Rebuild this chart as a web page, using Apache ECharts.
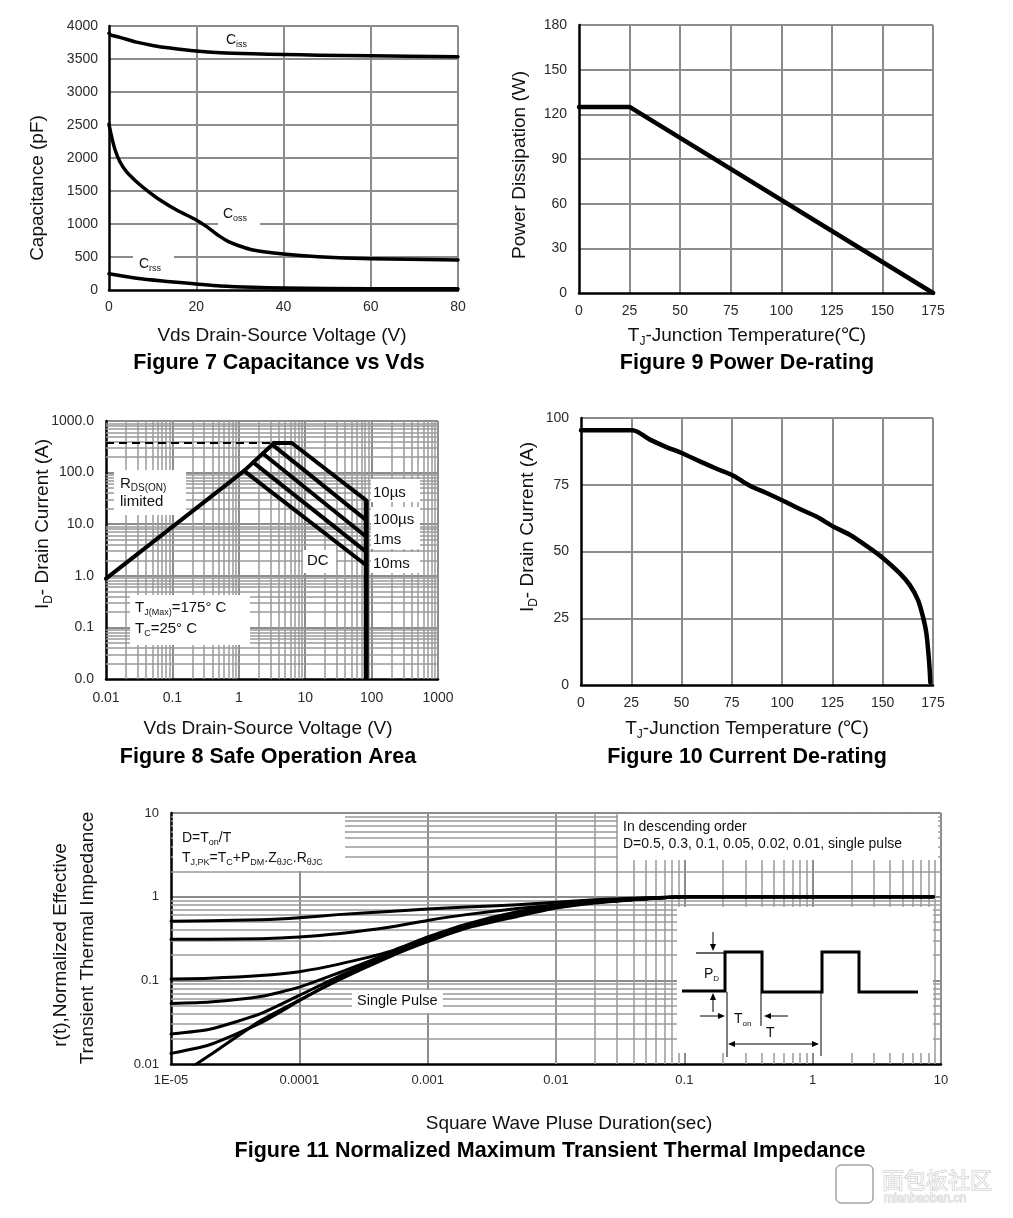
<!DOCTYPE html>
<html><head><meta charset="utf-8">
<script src="https://cdn.jsdelivr.net/npm/echarts@6/dist/echarts.min.js"></script>
<style>html,body{margin:0;padding:0;background:#fff}#c{width:1013px;height:1218px}</style>
</head><body><div id="c"></div>
<script>
// ---------------- DATA ----------------
// Figure 7 : capacitance vs Vds  [Vds (V), C (pF)]
const cissPF = [[0,3890],[0.5,3862],[2.5,3828],[6.3,3755],[10,3705],[14,3665],[20,3620],[25.5,3595],[33,3578],[40,3568],[48,3558],[60,3548],[80,3535]];
const cossPF = [[0,2510],[0.6,2323],[1.4,2121],[2.5,1944],[4,1793],[6.3,1641],[8.6,1515],[11.7,1364],[15.5,1212],[20,1061],[22.4,960],[25.5,808],[27.4,732],[29.3,682],[33,606],[40,545],[48,505],[60,475],[80,455]];
const crssPF = [[0,245],[6.3,177],[14,126],[20,91],[25.5,61],[33,40],[40,30],[60,20],[80,18]];

// Figure 9 : power de-rating [Tj (C), P (W)]
const powerDerating = [[0,125],[25,125],[175,0]];

// Figure 10 : current de-rating [Tj (C), Id (A)]
const currentDerating = [[0,95.4],[25.5,95.4],[34.3,91.9],[42.5,89.1],[50,86.9],[59.1,83.75],[67.4,81],[75.7,78.4],[84,74.6],[92.2,71.9],[100.2,69.1],[108.8,65.9],[117,63.1],[125.3,59.4],[133.6,56.25],[141.9,52.1],[150.2,47.5],[158.4,41.9],[163.4,37.5],[167.5,31.9],[170,25.6],[171.7,19.4],[173,9.4],[173.7,0.9]];

// Figure 8 : safe operating area [Vds (V), Id (A)]
const soaRdsLimit = [[0.01,0.88],[1.2,108],[3.4,375]];
const soaIdmPulse = [[0.01,375],[3.4,375]];
const soa10us  = [[3.4,375],[6.3,375],[83,29]];
const soa100us = [[3.2,349],[83,12]];
const soa1ms   = [[2.3,235],[83,5.7]];
const soa10ms  = [[1.65,158],[83,2.9]];
const soaDC    = [[1.2,108],[83,1.6]];
const soaBvdss = [[83,29],[83,0.01]];
const soaXLabels = ['0.01','0.1','1','10','100','1000'];
const soaYLabels = ['0.0','0.1','1.0','10.0','100.0','1000.0'];

// Figure 11 : transient thermal impedance
const pulseWidth = [1e-5,2e-5,5e-5,1e-4,2e-4,5e-4,1e-3,2e-3,5e-3,1e-2,2e-2,5e-2,0.1,8.7];
const zthD05  = [0.51,0.515,0.53,0.56,0.61,0.665,0.71,0.75,0.80,0.86,0.92,0.97,1.0,1.0];
const zthD03  = [0.31,0.31,0.315,0.33,0.36,0.43,0.52,0.61,0.72,0.80,0.89,0.96,1.0,1.0];
const zthD01  = [0.104,0.106,0.114,0.127,0.155,0.22,0.33,0.47,0.66,0.77,0.87,0.95,1.0,1.0];
const zthD005 = [0.053,0.055,0.064,0.083,0.122,0.21,0.32,0.45,0.64,0.76,0.86,0.95,1.0,1.0];
const zthD002 = [0.0229,0.026,0.040,0.066,0.11,0.2,0.31,0.44,0.62,0.75,0.855,0.945,1.0,1.0];
const zthD001 = [0.0134,0.017,0.031,0.057,0.103,0.195,0.30,0.43,0.60,0.74,0.85,0.94,1.0,1.0];
const zthSingle = [0.0063,0.0127,0.033,0.058,0.10,0.19,0.29,0.42,0.58,0.73,0.84,0.94,1.0,1.0];
const zthXLabels = ['1E-05','0.0001','0.001','0.01','0.1','1','10'];
const zthYLabels = ['0.01','0.1','1','10'];

// ---------------- HELPERS ----------------
const FONT = '"Liberation Sans", Arial, Helvetica, sans-serif';
const GRIDC = '#8c8c8c';
const LBL = '#2a2a2a';

function minorVals(e0, e1){ const a=[]; for(let e=e0;e<e1;e++){ for(let k=2;k<=9;k++){ a.push(+(k*Math.pow(10,e)).toPrecision(6)); } } return a; }

function linAxis(gi, min, max, interval, margin){
  return {type:'value', gridIndex:gi, min, max, interval,
    axisLine:{show:true,onZero:false,lineStyle:{color:'#000',width:2.5}},
    axisTick:{show:false},
    axisLabel:{color:LBL,fontSize:14,fontFamily:FONT,margin:margin,hideOverlap:false,formatter:(v)=>String(v)},
    splitLine:{show:true,showMinLine:false,lineStyle:{color:GRIDC,width:2}}};
}
function logAxis(gi, min, max, labels, margin, fs){
  const e0 = Math.round(Math.log10(min));
  return {type:'log', logBase:10, gridIndex:gi, min, max,
    axisLine:{show:true,onZero:false,lineStyle:{color:'#000',width:2.5}},
    axisTick:{show:false},
    axisLabel:{color:LBL,fontSize:fs,fontFamily:FONT,margin:margin,hideOverlap:false,
      formatter:(v)=>{ const i=Math.round(Math.log10(v))-e0; return labels[i]!==undefined?labels[i]:''; }},
    splitLine:{show:true,showMinLine:false,lineStyle:{color:GRIDC,width:2}}};
}
function lineSeries(xi, data, w, extra){
  return Object.assign({type:'line', xAxisIndex:xi, yAxisIndex:xi, data, showSymbol:false, symbol:'none',
    z:5, clip:true, lineStyle:{color:'#000',width:w,join:'round',cap:'round'}}, extra||{});
}
function minorSeries(xi, xs, ys){
  return {type:'line', xAxisIndex:xi, yAxisIndex:xi, data:[[xs[0],ys[0]]], showSymbol:false, symbol:'none',
    lineStyle:{opacity:0}, z:1, silent:true,
    markLine:{silent:true, z:1, symbol:['none','none'], label:{show:false}, animation:false,
      lineStyle:{color:'#9a9a9a',width:1.5,type:'solid'},
      emphasis:{disabled:true},
      data:[...xs.map(v=>({xAxis:v})), ...ys.map(v=>({yAxis:v}))]}};
}

function richStr(str){
  const parts = str.split(/_\{([^}]*)\}/);
  return parts.map((p,i)=> p===''?'':(i%2?'{s|'+p+'}':'{n|'+p+'}')).join('');
}
function txt(x,y,str,size,o){
  o=o||{};
  const sub=o.sub||Math.round(size*0.62);
  const col=o.color||'#111';
  const al=o.align||'left';
  return {type:'text', x, y, rotation:o.rot||0, z:o.z||20, silent:true,
    style:{text:richStr(str), fill:col, font:(o.bold?'bold ':'')+size+'px '+FONT,
      align:al, textAlign:al, verticalAlign:'middle', textVerticalAlign:'middle',
      stroke:o.stroke||null, lineWidth:o.stroke?1:0,
      rich:{n:{fontSize:size,fontFamily:o.ff||FONT,fontWeight:o.bold?'bold':'normal',fill:col,stroke:o.stroke||null,lineWidth:o.stroke?1:0,lineHeight:size+4},
            s:{fontSize:sub,fontFamily:FONT,fill:col,lineHeight:sub+1,verticalAlign:'bottom'}}}};
}
function box(x,y,w,h){ return {type:'rect', shape:{x,y,width:w,height:h}, style:{fill:'#fff'}, z:3, silent:true}; }
function seg(x1,y1,x2,y2,w){ return {type:'line', shape:{x1,y1,x2,y2}, style:{stroke:'#000',lineWidth:w||1}, z:20, silent:true}; }
function poly(pts,w){ return {type:'polyline', shape:{points:pts}, style:{stroke:'#000',lineWidth:w,fill:null,lineJoin:'miter'}, z:20, silent:true}; }
function head(x,y,dir){ // arrow head with tip at x,y
  const L=7,W=3; let p;
  if(dir==='r') p=[[x,y],[x-L,y-W],[x-L,y+W]];
  if(dir==='l') p=[[x,y],[x+L,y-W],[x+L,y+W]];
  if(dir==='d') p=[[x,y],[x-W,y-L],[x+W,y-L]];
  if(dir==='u') p=[[x,y],[x-W,y+L],[x+W,y+L]];
  return {type:'polygon', shape:{points:p}, style:{fill:'#000'}, z:20, silent:true};
}

// ---------------- OPTION ----------------
const grids = [
  {left:109, top:26, width:349, height:264},   // fig 7
  {left:579, top:25, width:354, height:268},   // fig 9
  {left:106, top:421, width:332, height:258},  // fig 8
  {left:581, top:418, width:352, height:267},  // fig 10
  {left:171, top:813, width:770, height:251}   // fig 11
].map(g=>Object.assign({containLabel:false, outerBoundsMode:'none'}, g));

const xAxes = [
  linAxis(0,0,80,20,10),
  linAxis(1,0,175,25,11),
  logAxis(2,0.01,1000,soaXLabels,12,14),
  linAxis(3,0,175,25,11),
  logAxis(4,1e-5,10,zthXLabels,10,13)
];
const yAxes = [
  linAxis(0,0,4000,500,11),
  linAxis(1,0,180,30,12),
  logAxis(2,0.01,1000,soaYLabels,12,14),
  linAxis(3,0,100,25,12),
  logAxis(4,0.01,10,zthYLabels,12,13)
];

const series = [
  lineSeries(0,cissPF,3.5,{smooth:0.3}),
  lineSeries(0,cossPF,3.5,{smooth:0.3}),
  lineSeries(0,crssPF,3.5,{smooth:0.3}),
  lineSeries(1,powerDerating,4.5),
  minorSeries(2,minorVals(-2,3),minorVals(-2,3)),
  lineSeries(2,soaIdmPulse,2,{lineStyle:{color:'#000',width:2,type:[8,5]}}),
  lineSeries(2,soaRdsLimit,4),
  lineSeries(2,soa10us,4),
  lineSeries(2,soa100us,4),
  lineSeries(2,soa1ms,4),
  lineSeries(2,soa10ms,4),
  lineSeries(2,soaDC,4),
  lineSeries(2,soaBvdss,5,{lineStyle:{color:'#000',width:5,cap:'butt'}}),
  lineSeries(3,currentDerating,4.5,{smooth:0.3}),
  minorSeries(4,minorVals(-5,1),minorVals(-2,1)),
  ...[zthD05,zthD03,zthD01,zthD005,zthD002,zthD001,zthSingle].map(arr=>
    lineSeries(4,pulseWidth.map((t,i)=>[t,arr[i]]),3,{smooth:0.2}))
];

const TS = 21.5, NS = 19;
const g = [];
// Figure 7
g.push(box(218,205,42,21), box(133,250,41,22));
g.push(txt(226,40,'C_{iss}',14), txt(223,214,'C_{oss}',14), txt(139,264,'C_{rss}',14));
g.push(txt(282,336,'Vds Drain-Source Voltage (V)',NS,{align:'center'}));
g.push(txt(279,363,'Figure 7 Capacitance vs Vds',TS,{align:'center',bold:true,color:'#000'}));
g.push(txt(38,188,'Capacitance (pF)',NS,{align:'center',rot:Math.PI/2}));
// Figure 9
g.push(txt(747,336,'T_{J}-Junction Temperature(℃)',NS,{align:'center'}));
g.push(txt(747,363,'Figure 9 Power De-rating',TS,{align:'center',bold:true,color:'#000'}));
g.push(txt(520,165,'Power Dissipation (W)',NS,{align:'center',rot:Math.PI/2}));
// Figure 8
g.push(box(114,470,72,45), box(130,595,120,50), box(303,550,33,23), box(371,479,49,23), box(371,507,49,42), box(371,552,49,21));
g.push(txt(120,484,'R_{DS(ON)}',15,{sub:10}), txt(120,502,'limited',15));
g.push(txt(373,493,'10µs',15), txt(373,520,'100µs',15), txt(373,540,'1ms',15), txt(373,564,'10ms',15), txt(307,561,'DC',15));
g.push(txt(135,608,'T_{J(Max)}=175° C',15,{sub:9}), txt(135,629,'T_{C}=25° C',15,{sub:9}));
g.push(txt(268,729,'Vds Drain-Source Voltage (V)',NS,{align:'center'}));
g.push(txt(268,757,'Figure 8 Safe Operation Area',TS,{align:'center',bold:true,color:'#000'}));
g.push(txt(43,524,'I_{D}- Drain Current (A)',NS,{align:'center',rot:Math.PI/2}));
// Figure 10
g.push(txt(747,729,'T_{J}-Junction Temperature (℃)',NS,{align:'center'}));
g.push(txt(747,757,'Figure 10 Current De-rating',TS,{align:'center',bold:true,color:'#000'}));
g.push(txt(528,527,'I_{D}- Drain Current (A)',NS,{align:'center',rot:Math.PI/2}));
// Figure 11
g.push(box(173,814,172,57), box(618,814,320,46), box(677,907,256,146), box(352,990,91,23));
g.push(txt(182,838,'D=T_{on}/T',14,{sub:9}), txt(182,858,'T_{J,PK}=T_{C}+P_{DM}.Z_{θJC}.R_{θJC}',14,{sub:9}));
g.push(txt(623,827,'In descending order',14), txt(623,844,'D=0.5, 0.3, 0.1, 0.05, 0.02, 0.01, single pulse',14));
g.push(txt(357,1001,'Single Pulse',14.5));
g.push(txt(61,945,'r(t),Normalized Effective',NS,{align:'center',rot:Math.PI/2}));
g.push(txt(88,938,'Transient Thermal Impedance',NS,{align:'center',rot:Math.PI/2}));
g.push(txt(569,1124,'Square Wave Pluse Duration(sec)',NS,{align:'center'}));
g.push(txt(550,1151,'Figure 11 Normalized Maximum Transient Thermal Impedance',TS,{align:'center',bold:true,color:'#000'}));
// inset pulse diagram
g.push(poly([[682,991],[725,991],[725,952],[762,952],[762,992],[822,992],[822,952],[859,952],[859,992],[918,992]],3));
g.push(seg(696,953,725,953,1.2));
g.push(seg(713,932,713,944,1), head(713,951,'d'));
g.push(seg(713,1012,713,1000,1), head(713,993,'u'));
g.push(txt(704,974,'P_{D}',14,{sub:8}));
g.push(seg(727,992,727,1057,1), seg(761,993,761,1026,1), seg(821,993,821,1056,1));
g.push(seg(700,1016,718,1016,1), head(725,1016,'r'));
g.push(seg(788,1016,771,1016,1), head(764,1016,'l'));
g.push(txt(734,1019,'T_{on}',14,{sub:8}));
g.push(txt(766,1033,'T',14));
g.push(seg(735,1044,812,1044,1), head(728,1044,'l'), head(819,1044,'r'));
// watermark
g.push({type:'rect', shape:{x:836,y:1165,width:37,height:38,r:5}, style:{fill:'#fff',stroke:'#777',lineWidth:1}, z:20, silent:true});
g.push(txt(882,1180,'面包板社区',22,{ff:'"Noto Sans CJK SC", sans-serif',color:'#f6f6f6',stroke:'#c4c4c4'}));
g.push(txt(884,1199,'mianbaoban.cn',12,{color:'#f0f0f0',stroke:'#cfcfcf'}));

const option = {
  animation:false,
  backgroundColor:'#fff',
  grid:grids, xAxis:xAxes, yAxis:yAxes, series, graphic:{elements:g}
};
const chart = echarts.init(document.getElementById('c'), null, {renderer:'canvas'});
chart.setOption(option);
</script></body></html>
